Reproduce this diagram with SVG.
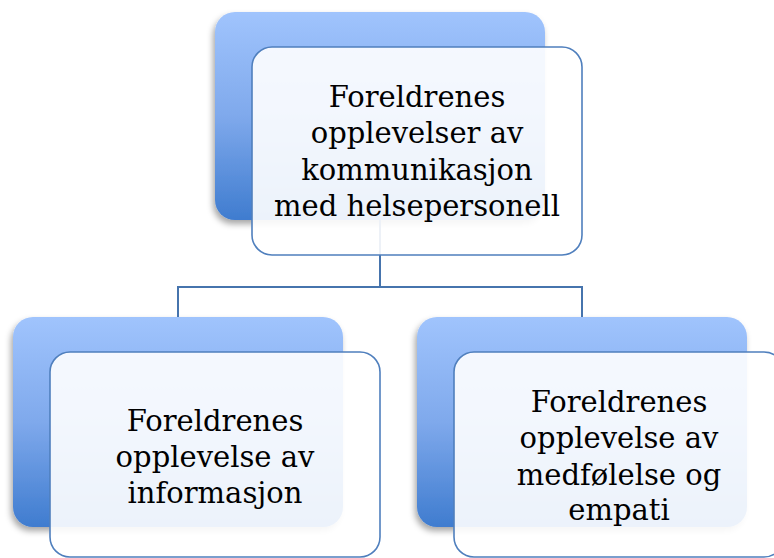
<svg xmlns="http://www.w3.org/2000/svg" width="774" height="558" viewBox="0 0 774 558">
<defs>
<linearGradient id="backGrad" x1="0" y1="0" x2="0" y2="1">
<stop offset="0" stop-color="#a0c4fd"/>
<stop offset="0.5" stop-color="#7fa9ec"/>
<stop offset="1" stop-color="#3f7ccf"/>
</linearGradient>
<filter id="shadow" x="-10%" y="-10%" width="120%" height="125%">
<feDropShadow dx="-2" dy="4" stdDeviation="3" flood-color="#000" flood-opacity="0.35"/>
</filter>
</defs>
<style>
.back{fill:url(#backGrad);filter:url(#shadow);}
.front{fill:#ffffff;fill-opacity:0.9;stroke:#4f7fbd;stroke-width:1.6;}
.conn{fill:none;stroke:#4674ad;stroke-width:2;}
.lbl{font-family:"DejaVu Serif","Liberation Serif",serif;font-size:29px;fill:#000;text-anchor:middle;}
</style>
<rect width="774" height="558" fill="#ffffff"/>
<g id="top-back"><rect class="back" x="215" y="12" width="330" height="208" rx="20"/></g>
<g id="left-back"><rect class="back" x="13" y="317" width="330" height="210" rx="20"/></g>
<g id="right-back"><rect class="back" x="417" y="317" width="330" height="210" rx="20"/></g>
<g id="connectors">
<path class="conn" d="M380,220 V287 H178 V317"/>
<path class="conn" d="M380,287 H582 V317"/>
</g>
<g id="top">
<rect class="front" x="252" y="47" width="330" height="208" rx="20"/>
<text class="lbl" x="417" y="107">Foreldrenes</text>
<text class="lbl" x="417" y="143">opplevelser av</text>
<text class="lbl" x="417" y="180">kommunikasjon</text>
<text class="lbl" x="417" y="216">med helsepersonell</text>
</g>
<g id="left">
<rect class="front" x="50" y="352" width="330" height="205" rx="20"/>
<text class="lbl" x="215" y="431">Foreldrenes</text>
<text class="lbl" x="215" y="467">opplevelse av</text>
<text class="lbl" x="215" y="503">informasjon</text>
</g>
<g id="right">
<rect class="front" x="454" y="352" width="330" height="205" rx="20"/>
<text class="lbl" x="619" y="412">Foreldrenes</text>
<text class="lbl" x="619" y="448">opplevelse av</text>
<text class="lbl" x="619" y="485">medfølelse og</text>
<text class="lbl" x="619" y="520">empati</text>
</g>
</svg>
